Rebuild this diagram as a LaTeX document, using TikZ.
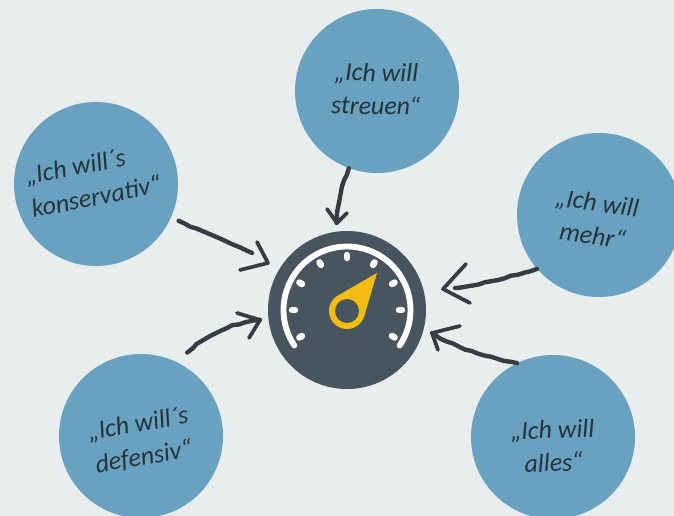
\documentclass[tikz,border=0pt]{standalone}
\usepackage{fontspec}
\usetikzlibrary{calc,decorations.pathmorphing}
\newfontfamily\hand{Carlito}
\definecolor{bgc}{HTML}{E9EDEE}
\definecolor{bub}{HTML}{69A2C0}
\definecolor{gaugec}{HTML}{49555E}
\definecolor{ink}{HTML}{333D42}
\definecolor{txt}{HTML}{25333B}
\definecolor{needle}{HTML}{F2BC12}
\tikzset{
  bubble/.style={circle,fill=bub,minimum size=123pt,inner sep=0pt},
  saytext/.style={font=\hand\itshape\fontsize{19.5}{25}\selectfont,text=txt,align=center},
  sketch/.style={draw=ink,line width=3.3pt,line cap=round,line join=round,
    decorate,decoration={random steps,segment length=5pt,amplitude=0.5pt}},
  barb/.style={draw=ink,line width=2.8pt,line cap=round,line join=round},
  tick/.style={draw=white,line width=4.8pt,line cap=round}
}
\begin{document}
\begin{tikzpicture}[x=0.75pt,y=-0.75pt]
\useasboundingbox (0,0) rectangle (674,516);
\fill[bgc] (0,0) rectangle (674,516);
\node[bubble] (top) at (377,91) {};
\node[bubble] (left) at (96,184) {};
\node[bubble] (right) at (599,215) {};
\node[bubble] (bl) at (141,436) {};
\node[bubble] (br) at (553,437) {};
\node[saytext,rotate=-1] (ttop) at (376,89) {„Ich will\\streuen“};
\node[saytext,rotate=11,align=left] (tleft) at (93,180) {„Ich will´s\\konservativ“};
\node[saytext,rotate=-8] (tright) at (595,219) {„Ich will\\mehr“};
\node[saytext,rotate=10] (tbl) at (141,441) {„Ich will´s\\defensiv“};
\node[saytext,rotate=2] (tbr) at (553,446) {„Ich will\\alles“};
\node[circle,fill=gaugec,minimum size=118.5pt,inner sep=0pt] (gauge) at (347,310) {};
% scale
\draw[draw=white,line width=4.4pt,line cap=round]
  plot[domain=146:394,samples=70,smooth] ({347+63.5*cos(\x)},{310+63.5*sin(\x)});
\foreach \a in {-120,-90,-60,-30,0,30,60,90,120}{
  \draw[tick] ({347+52*sin(\a)},{310-52*cos(\a)}) -- ({347+55*sin(\a)},{310-55*cos(\a)});
}
% needle
\coordinate (hub) at (347,311);
\coordinate (nt) at (377,273);
\fill[needle] (nt) -- ($(hub)+(16.8:18)$) -- (hub) -- ($(hub)+(-118.8:18)$) -- cycle;
\fill[needle] (hub) circle[radius=18];
\fill[gaugec] (hub) circle[radius=12];
% arrows
\coordinate (tipa) at (337,223);
\coordinate (tipb) at (268,263);
\coordinate (tipc) at (260,320);
\coordinate (tipd) at (443,289);
\coordinate (tipe) at (432,333);
\draw[sketch] (top.-110) .. controls (342,186) and (337,203) .. (tipa);
\draw[barb] (327,209) -- (tipa) -- (347,213);
\draw[sketch] ($(left.center)!1.1!(left.-24)$) .. controls (205,233) and (232,244) .. (252,253);
\draw[barb] (257,242) -- (tipb) -- (240,270);
\draw[sketch] ($(bl.center)!1.16!(bl.61)$) .. controls (207,335) and (228,324) .. (tipc);
\draw[barb] (237,313) -- (tipc) -- (249,338);
\draw[sketch] (right.-139) .. controls (515,275) and (485,284) .. (455,288);
\draw[barb] (466,264) -- (tipd) -- (470,303);
\draw[sketch] (br.116) .. controls (490,358) and (460,350) .. (tipe);
\draw[barb] (460,326) -- (tipe) -- (438,350);
\end{tikzpicture}
\end{document}
